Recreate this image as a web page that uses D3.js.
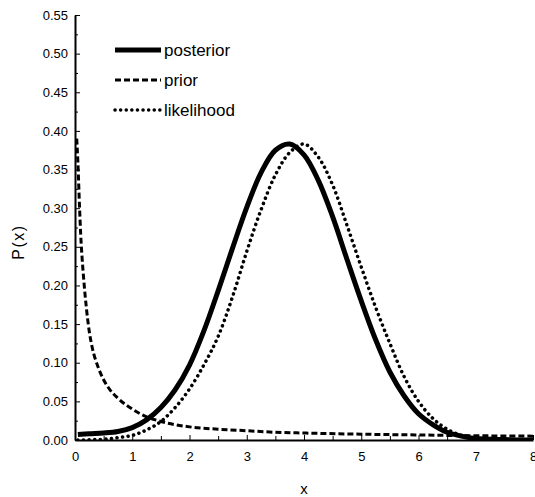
<!DOCTYPE html>
<html>
<head>
<meta charset="utf-8">
<script src="https://cdn.jsdelivr.net/npm/d3@7"></script>
<style>
  body { margin: 0; background: #fff; }
  svg text { font-family: "Liberation Sans", Arial, sans-serif; fill: #000; }
  .axis text { font-size: 13px; }
  .axis path, .axis line { stroke: #000; }
</style>
</head>
<body>
<div id="chart"></div>
<script>
// values
var posterior_x = [0.05, 0.25, 0.5, 0.75, 1.0, 1.25, 1.5, 1.75, 2.0, 2.25, 2.5, 2.75, 3.0, 3.25, 3.5, 3.75,
  4.0, 4.25, 4.5, 4.75, 5.0, 5.25, 5.5, 5.75, 6.0, 6.25, 6.5, 6.75, 7.0, 7.5, 8.0];
var posterior_y = [0.007, 0.008, 0.009, 0.011, 0.016, 0.026, 0.042, 0.065, 0.097, 0.141, 0.193, 0.248, 0.301, 0.346, 0.375, 0.383,
  0.369, 0.336, 0.289, 0.234, 0.18, 0.13, 0.088, 0.057, 0.034, 0.02, 0.01, 0.005, 0.002, 0.0005, 0.0];

var likelihood_x = [0.05, 0.5, 0.75, 1.0, 1.25, 1.5, 1.75, 2.0, 2.25, 2.5, 2.75, 3.0, 3.25, 3.5, 3.75, 4.0,
  4.25, 4.5, 4.75, 5.0, 5.25, 5.5, 5.75, 6.0, 6.25, 6.5, 6.75, 7.0, 7.5, 8.0];
var likelihood_y = [0.0, 0.001, 0.003, 0.006, 0.013, 0.024, 0.042, 0.066, 0.097, 0.134, 0.185, 0.244, 0.298, 0.343, 0.372, 0.383,
  0.366, 0.33, 0.278, 0.224, 0.172, 0.125, 0.082, 0.05, 0.028, 0.014, 0.006, 0.002, 0.0005, 0.0];

var prior_x = [0.03, 0.05, 0.08, 0.1, 0.12, 0.15, 0.2, 0.25, 0.3, 0.4, 0.5, 0.6, 0.75, 1.0, 1.25, 1.5,
  2.0, 2.5, 3.0, 3.5, 4.0, 5.0, 6.0, 7.0, 8.0];
var prior_y = [0.39, 0.36, 0.3, 0.265, 0.24, 0.21, 0.17, 0.14, 0.12, 0.095, 0.078, 0.066, 0.054, 0.04, 0.03, 0.024,
  0.017, 0.014, 0.012, 0.01, 0.009, 0.0075, 0.0065, 0.0055, 0.005];

var series_names = ["posterior", "prior", "likelihood"];
var x_ticks = [0, 1, 2, 3, 4, 5, 6, 7, 8];
var y_ticks = [0, 0.05, 0.1, 0.15, 0.2, 0.25, 0.3, 0.35, 0.4, 0.45, 0.5, 0.55];

var width = 535, height = 497;
var margins = { top: 15, right: 2, bottom: 57, left: 75 };

var svg = d3.select("#chart").append("svg")
  .attr("width", width)
  .attr("height", height);

var x = d3.scaleLinear().domain([0, 8]).range([margins.left, width - margins.right]);
var y = d3.scaleLinear().domain([0, 0.55]).range([height - margins.bottom, margins.top]);

// minor ticks
svg.append("g")
  .attr("class", "axis")
  .attr("transform", "translate(0," + y(0) + ")")
  .call(d3.axisBottom(x).tickValues(d3.range(0.5, 8, 1)).tickSize(-4).tickSizeOuter(0).tickFormat(""))
  .call(g => g.select(".domain").remove());
svg.append("g")
  .attr("class", "axis")
  .attr("transform", "translate(" + x(0) + ",0)")
  .call(d3.axisLeft(y).tickValues(d3.range(0.025, 0.55, 0.05)).tickSize(-3).tickSizeOuter(0).tickFormat(""))
  .call(g => g.select(".domain").remove());

// main axes
svg.append("g")
  .attr("class", "axis x-axis")
  .attr("transform", "translate(0," + y(0) + ")")
  .call(d3.axisBottom(x).tickValues(x_ticks).tickSize(-5).tickSizeOuter(0).tickPadding(12).tickFormat(d3.format("d")))
  .call(g => g.select(".domain").attr("stroke-width", 2));

svg.append("g")
  .attr("class", "axis y-axis")
  .attr("transform", "translate(" + x(0) + ",0)")
  .call(d3.axisLeft(y).tickValues(y_ticks).tickSize(-5).tickSizeOuter(0).tickPadding(7).tickFormat(d3.format(".2f")))
  .call(g => g.select(".domain").attr("stroke-width", 2));

// axis titles
svg.append("text")
  .attr("x", x(4))
  .attr("y", 494)
  .attr("text-anchor", "middle")
  .style("font-size", "15px")
  .text("x");

svg.append("text")
  .attr("transform", "translate(24,242) rotate(-90)")
  .attr("text-anchor", "middle")
  .style("font-size", "16px")
  .style("letter-spacing", "1.5px")
  .text("P(x)");

var smooth_line = d3.line()
  .x(d => x(d[0]))
  .y(d => y(d[1]))
  .curve(d3.curveCatmullRom.alpha(0.5));

var prior_line = d3.line()
  .x(d => x(d[0]))
  .y(d => y(d[1]))
  .curve(d3.curveMonotoneX);

var styles = {
  posterior: { width: 5, dash: null, cap: "butt" },
  prior: { width: 3, dash: "6,3", cap: "butt" },
  likelihood: { width: 3.5, dash: "0.1,5.5", cap: "round" }
};

var series = [
  { name: "prior", data: d3.zip(prior_x, prior_y), line: prior_line },
  { name: "likelihood", data: d3.zip(likelihood_x, likelihood_y), line: smooth_line },
  { name: "posterior", data: d3.zip(posterior_x, posterior_y), line: smooth_line }
];

svg.append("clipPath").attr("id", "plot-clip")
  .append("rect")
  .attr("x", x(0)).attr("y", y(0.55))
  .attr("width", x(8) - x(0)).attr("height", y(0) - y(0.55));

svg.append("g")
  .attr("clip-path", "url(#plot-clip)")
  .selectAll("path")
  .data(series)
  .enter()
  .append("path")
  .attr("d", d => d.line(d.data))
  .attr("fill", "none")
  .attr("stroke", "#000")
  .attr("stroke-width", d => styles[d.name].width)
  .attr("stroke-dasharray", d => styles[d.name].dash)
  .attr("stroke-linecap", d => styles[d.name].cap);

// legend
var legend = svg.append("g").attr("class", "legend");
series_names.forEach(function (name, i) {
  var ly = 50 + i * 30;
  legend.append("line")
    .attr("x1", 115).attr("x2", 161)
    .attr("y1", ly).attr("y2", ly)
    .attr("stroke", "#000")
    .attr("stroke-width", styles[name].width)
    .attr("stroke-dasharray", styles[name].dash)
    .attr("stroke-linecap", styles[name].cap);
  legend.append("text")
    .attr("x", 164)
    .attr("y", ly)
    .attr("dy", "0.35em")
    .style("font-size", "17px")
    .text(name);
});
</script>
</body>
</html>
